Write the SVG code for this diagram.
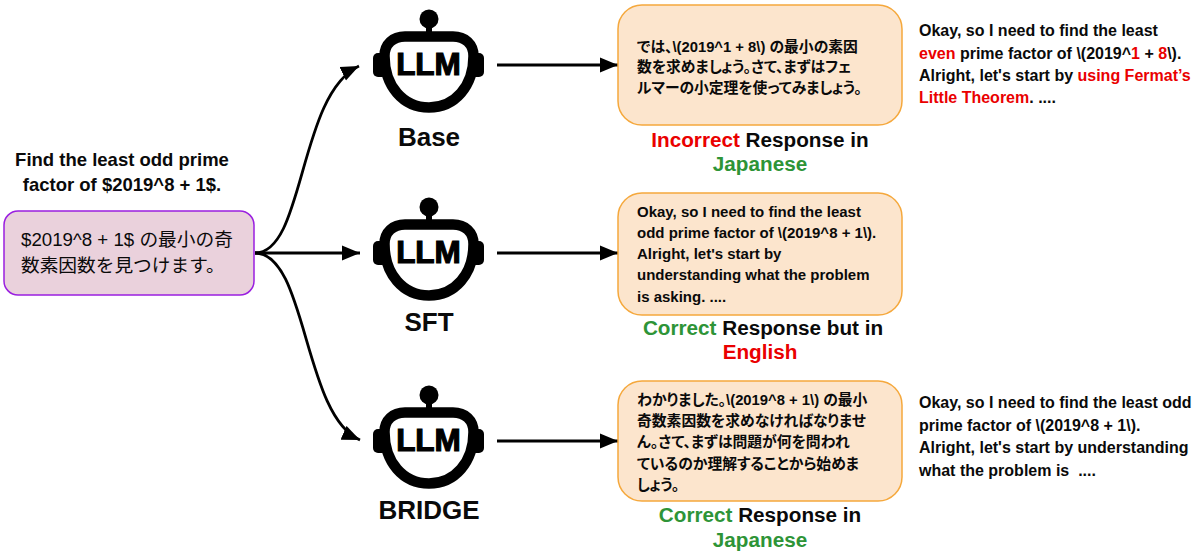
<svg xmlns="http://www.w3.org/2000/svg" width="1200" height="555" viewBox="0 0 1200 555">
<style>
text{font-family:"Liberation Sans","Noto Sans CJK JP",sans-serif;font-weight:700;fill:#0a0a0a}
.r{fill:#ea0000}.g{fill:#2e9437}
.c{text-anchor:middle}
.lbl{font-size:20.700px}
.big{font-size:26px}
.side{font-size:16px}
.jp{font-size:14.800px;font-feature-settings:"palt"}
.en{font-size:15px}
.llm{font-size:31.500px;text-anchor:middle;stroke:#000;stroke-width:1.200px;fill:#000}
.box{fill:#fce5cd;stroke:#f5a83c;stroke-width:1.500}
.conn{fill:none;stroke:#000;stroke-width:2.800}
</style>
<defs>
<marker id="ah" markerUnits="userSpaceOnUse" markerWidth="19" markerHeight="16" refX="18" refY="8" orient="auto"><path d="M0 0.500L18 8L0 15.500Z" fill="#000"/></marker>
<g id="robot">
<circle cx="429" cy="19" r="9.500" fill="#000"/>
<rect x="426" y="26" width="6" height="10" fill="#000"/>
<rect x="373" y="53" width="14" height="24" rx="5" fill="#000"/>
<rect x="470" y="53" width="14" height="24" rx="5" fill="#000"/>
<path d="M405 36.500H453C465 36.500 473.500 44 473.500 56C473.500 86 455 107.500 429 107.500C403 107.500 384.500 86 384.500 56C384.500 44 393 36.500 405 36.500Z" fill="#fff" stroke="#000" stroke-width="10.500"/>
</g>
</defs>
<g id="connectors">
<path class="conn" marker-end="url(#ah)" d="M255 253C305 253 298 95 359 66"/>
<path class="conn" marker-end="url(#ah)" d="M255 253H360"/>
<path class="conn" marker-end="url(#ah)" d="M255 253C307 253 303 415 360 440"/>
<path class="conn" marker-end="url(#ah)" d="M497 65H618"/>
<path class="conn" marker-end="url(#ah)" d="M497 253H618"/>
<path class="conn" marker-end="url(#ah)" d="M497 441H618"/>
</g>
<g id="question">
<text class="c" x="122" y="166" style="font-size:18.500px">Find the least odd prime</text>
<text class="c" x="122" y="191" style="font-size:18.500px">factor of $2019^8 + 1$.</text>
<rect x="4" y="211" width="250" height="84" rx="14" fill="#ead1dc" stroke="#9a1fe0" stroke-width="1.500"/>
<text x="21" y="246" style="font-size:18.700px;font-weight:400">$2019^8 + 1$ の最小の奇</text>
<text x="21" y="272" style="font-size:18.700px;font-weight:400">数素因数を見つけます。</text>
</g>
<g id="llm-base">
<use href="#robot"/>
<text class="llm" x="428.500" y="75">LLM</text>
<text class="c big" x="429" y="146">Base</text>
</g>
<g id="llm-sft">
<use href="#robot" y="188"/>
<text class="llm" x="428.500" y="263">LLM</text>
<text class="c big" x="429" y="331">SFT</text>
</g>
<g id="llm-bridge">
<use href="#robot" y="376"/>
<text class="llm" x="428.500" y="451">LLM</text>
<text class="c big" x="429" y="519">BRIDGE</text>
</g>
<g id="resp-base">
<rect class="box" x="618" y="5" width="284" height="120" rx="24"/>
<text class="jp" x="637" y="52">では、\(2019^1 + 8\) の最小の素因</text>
<text class="jp" x="637" y="72">数を求めましょう。さて、まずはフェ</text>
<text class="jp" x="637" y="93">ルマーの小定理を使ってみましょう。</text>
<text class="lbl c" x="760" y="147"><tspan class="r">Incorrect</tspan> Response in</text>
<text class="lbl c g" x="760" y="171">Japanese</text>
</g>
<g id="resp-sft">
<rect class="box" x="618" y="193" width="284" height="122" rx="24"/>
<text class="en" x="637" y="217">Okay, so I need to find the least</text>
<text class="en" x="637" y="238">odd prime factor of \(2019^8 + 1\).</text>
<text class="en" x="637" y="259">Alright, let's start by</text>
<text class="en" x="637" y="280">understanding what the problem</text>
<text class="en" x="637" y="302">is asking. ....</text>
<text class="lbl c" x="763" y="335"><tspan class="g">Correct</tspan> Response but in</text>
<text class="lbl c r" x="760" y="359">English</text>
</g>
<g id="resp-bridge">
<rect class="box" x="618" y="381" width="284" height="120" rx="24"/>
<text class="jp" x="637" y="405">わかりました。\(2019^8 + 1\) の最小</text>
<text class="jp" x="637" y="426">奇数素因数を求めなければなりませ</text>
<text class="jp" x="637" y="447">ん。さて、まずは問題が何を問われ</text>
<text class="jp" x="637" y="469">ているのか理解することから始めま</text>
<text class="jp" x="637" y="490">しょう。</text>
<text class="lbl c" x="760" y="522"><tspan class="g">Correct</tspan> Response in</text>
<text class="lbl c g" x="760" y="547">Japanese</text>
</g>
<g id="note-base">
<text class="side" x="919" y="36">Okay, so I need to find the least</text>
<text class="side" x="919" y="59"><tspan class="r">even</tspan> prime factor of \(2019^<tspan class="r">1</tspan> + <tspan class="r">8</tspan>\).</text>
<text class="side" x="919" y="81">Alright, let's start by <tspan class="r">using Fermat’s</tspan></text>
<text class="side" x="919" y="103"><tspan class="r">Little Theorem</tspan>. ....</text>
</g>
<g id="note-bridge">
<text class="side" x="919" y="408">Okay, so I need to find the least odd</text>
<text class="side" x="919" y="431">prime factor of \(2019^8 + 1\).</text>
<text class="side" x="919" y="453">Alright, let's start by understanding</text>
<text class="side" x="919" y="476" xml:space="preserve">what the problem is  ....</text>
</g>
</svg>
